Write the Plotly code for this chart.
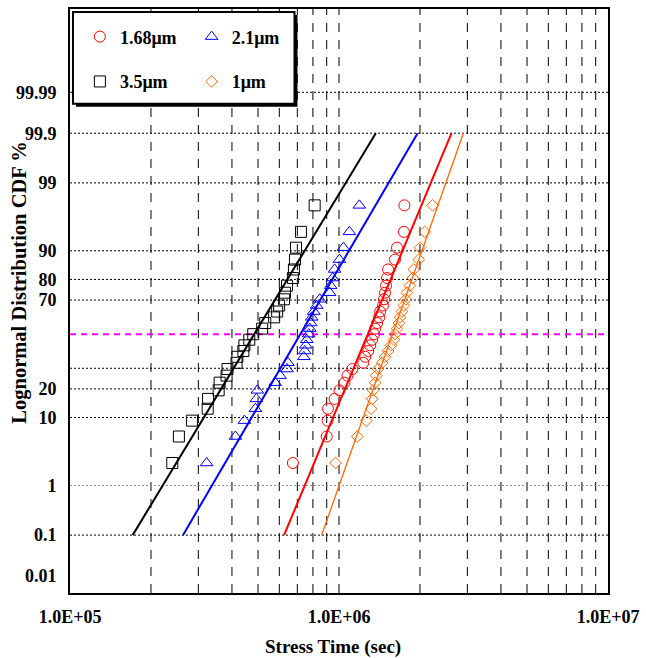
import plotly.graph_objects as go
from statistics import NormalDist

ND = NormalDist()


def probit(p):
    return ND.inv_cdf(p / 100.0)


# ---------------- data ----------------
cdf_pct = [2.381, 5.782, 9.184, 12.585, 15.986, 19.388, 22.789, 26.190, 29.592,
           32.993, 36.395, 39.796, 43.197, 46.599, 50.000, 53.401, 56.803, 60.204,
           63.605, 67.007, 70.408, 73.810, 77.211, 80.612, 84.014, 87.415, 90.816,
           94.218, 97.619]

t_168 = [6.74e5, 9.00e5, 9.07e5, 9.10e5, 9.63e5, 1.004e6, 1.048e6, 1.075e6, 1.121e6,
         1.231e6, 1.252e6, 1.284e6, 1.306e6, 1.328e6, 1.351e6, 1.363e6, 1.386e6, 1.410e6,
         1.422e6, 1.458e6, 1.471e6, 1.483e6, 1.496e6, 1.509e6, 1.522e6, 1.615e6, 1.643e6,
         1.743e6, 1.750e6]
t_21 = [3.22e5, 4.12e5, 4.45e5, 4.89e5, 4.93e5, 4.97e5, 5.79e5, 6.04e5, 6.41e5,
        6.46e5, 7.40e5, 7.46e5, 7.53e5, 7.59e5, 7.72e5, 7.79e5, 7.85e5, 7.92e5,
        8.06e5, 8.26e5, 8.48e5, 9.23e5, 9.31e5, 9.47e5, 9.63e5, 1.004e6, 1.039e6,
        1.093e6, 1.190e6]
t_35 = [2.40e5, 2.54e5, 2.84e5, 3.25e5, 3.26e5, 3.57e5, 3.60e5, 3.82e5, 3.85e5,
        4.16e5, 4.19e5, 4.41e5, 4.45e5, 4.64e5, 4.80e5, 5.18e5, 5.32e5, 5.74e5,
        5.89e5, 5.99e5, 6.25e5, 6.30e5, 6.41e5, 6.74e5, 6.80e5, 6.86e5, 6.92e5,
        7.22e5, 8.12e5]
t_1 = [9.71e5, 1.170e6, 1.263e6, 1.317e6, 1.328e6, 1.340e6, 1.363e6, 1.375e6, 1.398e6,
       1.446e6, 1.483e6, 1.522e6, 1.561e6, 1.601e6, 1.615e6, 1.643e6, 1.671e6, 1.685e6,
       1.714e6, 1.743e6, 1.773e6, 1.788e6, 1.834e6, 1.881e6, 1.898e6, 1.980e6, 2.000e6,
       2.083e6, 2.229e6]

# lognormal fit lines: end points (time) at the CDF levels in fit_pct
fit_pct = [0.1, 99.9]
fit_168 = [6.25e5, 2.62e6]
fit_21 = [2.63e5, 1.96e6]
fit_35 = [1.71e5, 1.37e6]
fit_1 = [8.62e5, 2.90e6]

series_names = ["1.68\u03bcm", "2.1\u03bcm", "3.5\u03bcm", "1\u03bcm"]
series_colors = ["#FF0000", "#0000FF", "#000000", "#FF6600"]

ytick_pct = [0.01, 0.1, 1, 10, 20, 70, 80, 90, 99, 99.9, 99.99]
ytick_text = ["0.01", "0.1", "1", "10", "20", "70", "80", "90", "99", "99.9", "99.99"]
hgrid_pct = [0.1, 10, 20, 30, 70, 80, 90, 99, 99.9, 99.99]
hgrid_gray_pct = [1]
median_pct = 50
vgrid_vals = [2e5, 3e5, 4e5, 5e5, 6e5, 7e5, 8e5, 9e5, 1e6,
              2e6, 3e6, 4e6, 5e6, 6e6, 7e6, 8e6, 9e6]
xtick_vals = [1e5, 1e6, 1e7]
xtick_text = ["1.0E+05", "1.0E+06", "1.0E+07"]

# ---------------- figure ----------------
W, H = 646, 658
L, R, T, B = 70, 32, 7, 65
PW, PH = W - L - R, H - T - B
FONT = "Liberation Serif, Times New Roman, serif"


def px_x(p):
    return (p - L) / PW


def px_y(p):
    return (H - B - p) / PH


fig = go.Figure()

data_sets = [t_168, t_21, t_35, t_1]
fits = [fit_168, fit_21, fit_35, fit_1]
symbols = ["circle-open", "triangle-up-open", "square-open", "diamond-open"]
sizes = [11, 11, 11, 9]
fit_widths = [2, 2, 2, 1.3]
legends = ["legend", "legend2", "legend3", "legend4"]

ycdf = [probit(p) for p in cdf_pct]
yfit = [probit(p) for p in fit_pct]

for i in range(4):
    fig.add_trace(go.Scatter(
        x=data_sets[i], y=ycdf, mode="markers", name=series_names[i],
        marker=dict(symbol=symbols[i], size=sizes[i], color=series_colors[i],
                    line=dict(width=1, color=series_colors[i])),
        legend=legends[i], showlegend=True))
for i in range(4):
    fig.add_trace(go.Scatter(
        x=fits[i], y=yfit, mode="lines", showlegend=False,
        line=dict(color=series_colors[i], width=fit_widths[i])))

shapes = []
for v in vgrid_vals:
    shapes.append(dict(type="line", xref="x", yref="paper", x0=v, x1=v, y0=0, y1=1,
                       line=dict(color="#000000", width=1, dash="9px,8px"), layer="below"))
for p in hgrid_pct:
    shapes.append(dict(type="line", xref="paper", yref="y", x0=0, x1=1,
                       y0=probit(p), y1=probit(p),
                       line=dict(color="#000000", width=1, dash="2px,2px"), layer="below"))
for p in hgrid_gray_pct:
    shapes.append(dict(type="line", xref="paper", yref="y", x0=0, x1=1,
                       y0=probit(p), y1=probit(p),
                       line=dict(color="#888888", width=1, dash="2px,2px"), layer="below"))
shapes.append(dict(type="line", xref="paper", yref="y", x0=0, x1=1,
                   y0=probit(median_pct), y1=probit(median_pct),
                   line=dict(color="#FF00FF", width=2, dash="6px,5px"), layer="below"))

# legend frame with shadow
lx0, lx1, ly0, ly1 = 73, 297, 10, 102
shapes.append(dict(type="rect", xref="paper", yref="paper",
                   x0=px_x(lx0 + 3), x1=px_x(lx1 + 3), y0=px_y(ly1 + 3), y1=px_y(ly0 + 3),
                   fillcolor="#000000", line=dict(width=0), layer="above"))
shapes.append(dict(type="rect", xref="paper", yref="paper",
                   x0=px_x(lx0), x1=px_x(lx1), y0=px_y(ly1), y1=px_y(ly0),
                   fillcolor="#FFFFFF", line=dict(color="#000000", width=2), layer="above"))

leg_font = dict(family=FONT, size=18, color="#000000", weight="bold")
leg_pos = [(100, 35), (213, 35), (100, 80), (213, 80)]
leg_layout = {}
for i, (mx, my) in enumerate(leg_pos):
    leg_layout[legends[i]] = dict(
        x=px_x(mx - 20), y=px_y(my), xanchor="left", yanchor="middle",
        bgcolor="rgba(0,0,0,0)", borderwidth=0, font=leg_font,
        itemwidth=30, orientation="v", tracegroupgap=0)

fig.update_layout(
    width=W, height=H,
    margin=dict(l=L, r=R, t=T, b=B, pad=0),
    paper_bgcolor="white", plot_bgcolor="white",
    font=dict(family=FONT, color="#000000"),
    shapes=shapes,
    xaxis=dict(type="log", range=[5, 7], showgrid=False, zeroline=False,
               tickvals=xtick_vals, ticktext=xtick_text, ticks="",
               ticklabelstandoff=6,
               tickfont=dict(family=FONT, size=18, weight="bold"),
               showline=True, linewidth=2, linecolor="#000000", mirror=True),
    yaxis=dict(range=[-3.98, 5.0], showgrid=False, zeroline=False,
               tickvals=[probit(p) for p in ytick_pct], ticktext=ytick_text, ticks="",
               ticklabelstandoff=8,
               tickfont=dict(family=FONT, size=18, weight="bold"),
               showline=True, linewidth=2, linecolor="#000000", mirror=True),
    annotations=[
        dict(text="Stress Time (sec)", xref="paper", yref="paper",
             x=px_x(336), y=px_y(647), xanchor="center", yanchor="middle",
             showarrow=False, font=dict(family=FONT, size=19, weight="bold")),
        dict(text="Lognormal Distribution CDF %", xref="paper", yref="paper",
             x=px_x(18), y=px_y(282), xanchor="center", yanchor="middle", textangle=-90,
             showarrow=False, font=dict(family=FONT, size=20.5, weight="bold")),
    ],
    showlegend=True,
    **leg_layout,
)

fig.write_html("out.html", config={"displayModeBar": False},
               post_script="document.body.style.margin='0';document.body.style.overflow='hidden';")
